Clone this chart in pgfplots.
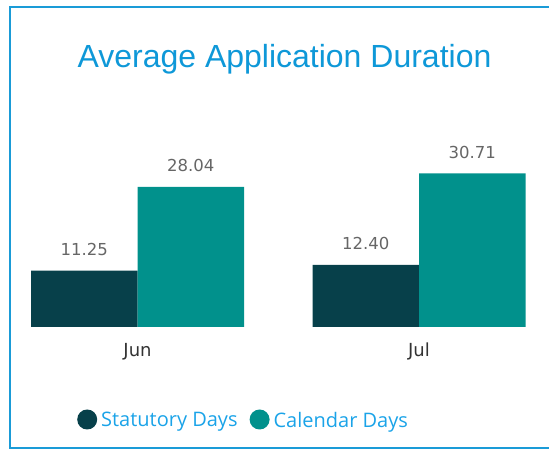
\documentclass[border=0pt]{standalone}
\usepackage{pgfplots}
\pgfplotsset{compat=1.18}
\usepackage{fontspec}
\setmainfont{Liberation Sans}
\newfontfamily\valfont{DejaVu Sans}
\newfontfamily\legfont{Open Sans}
\definecolor{frameblue}{HTML}{1A9BD7}
\definecolor{titleblue}{HTML}{0E98D8}
\definecolor{legblue}{HTML}{1AA3E8}
\definecolor{darkteal}{HTML}{07404A}
\definecolor{teal2}{HTML}{01918C}
\definecolor{valgray}{HTML}{666666}
\definecolor{catgray}{HTML}{333333}
\begin{document}
\begin{tikzpicture}[x=1bp,y=1bp]
\useasboundingbox (0,0) rectangle (549,450);
\draw[line width=2bp,color=frameblue] (549,443) -- (9.5,443) -- (9.5,1.5) -- (549,1.5);
\node[anchor=base,text=titleblue,font=\fontsize{32bp}{37bp}\selectfont] at (284.5,382) {Average Application Duration};
\begin{axis}[
  at={(24.9bp,123bp)}, anchor=south west,
  scale only axis, width=506.7bp, height=200bp,
  xmin=-0.4, xmax=1.4, ymin=0, ymax=40,
  axis lines=none,
  ybar=0pt, bar width=106.5bp,
  xtick=\empty, ytick=\empty,
  nodes near coords,
  point meta=y,
  every node near coord/.append style={anchor=base, yshift=15bp, text=valgray,
     font=\valfont\fontsize{16.5bp}{19bp}\selectfont,
     /pgf/number format/.cd, fixed, zerofill, precision=2, assume math mode=true},
  legend image code/.code={\fill[#1] (10bp,1bp) circle (10bp);},
  legend style={draw=none, fill=none, at={(rel axis cs:0,0)}, anchor=west,
     xshift=52.1bp, yshift=-92.5bp, inner sep=0pt, legend columns=-1,
     font=\legfont\fontsize{20bp}{23bp}\selectfont, text=legblue,
     nodes={inner sep=0pt},
     /tikz/every odd column/.append style={column sep=4bp},
     /tikz/every even column/.append style={column sep=12bp}},
  clip=false,
]
\addplot[fill=darkteal, draw=none] coordinates {(0,11.25) (1,12.40)};
\addplot[fill=teal2, draw=none] coordinates {(0,28.04) (1,30.71)};
\legend{Statutory Days, Calendar Days}
\node[anchor=base, text=catgray, font=\valfont\fontsize{18bp}{21bp}\selectfont] at (axis cs:0,0) [yshift=-30bp] {Jun};
\node[anchor=base, text=catgray, font=\valfont\fontsize{18bp}{21bp}\selectfont] at (axis cs:1,0) [yshift=-30bp] {Jul};
\end{axis}
\end{tikzpicture}
\end{document}
